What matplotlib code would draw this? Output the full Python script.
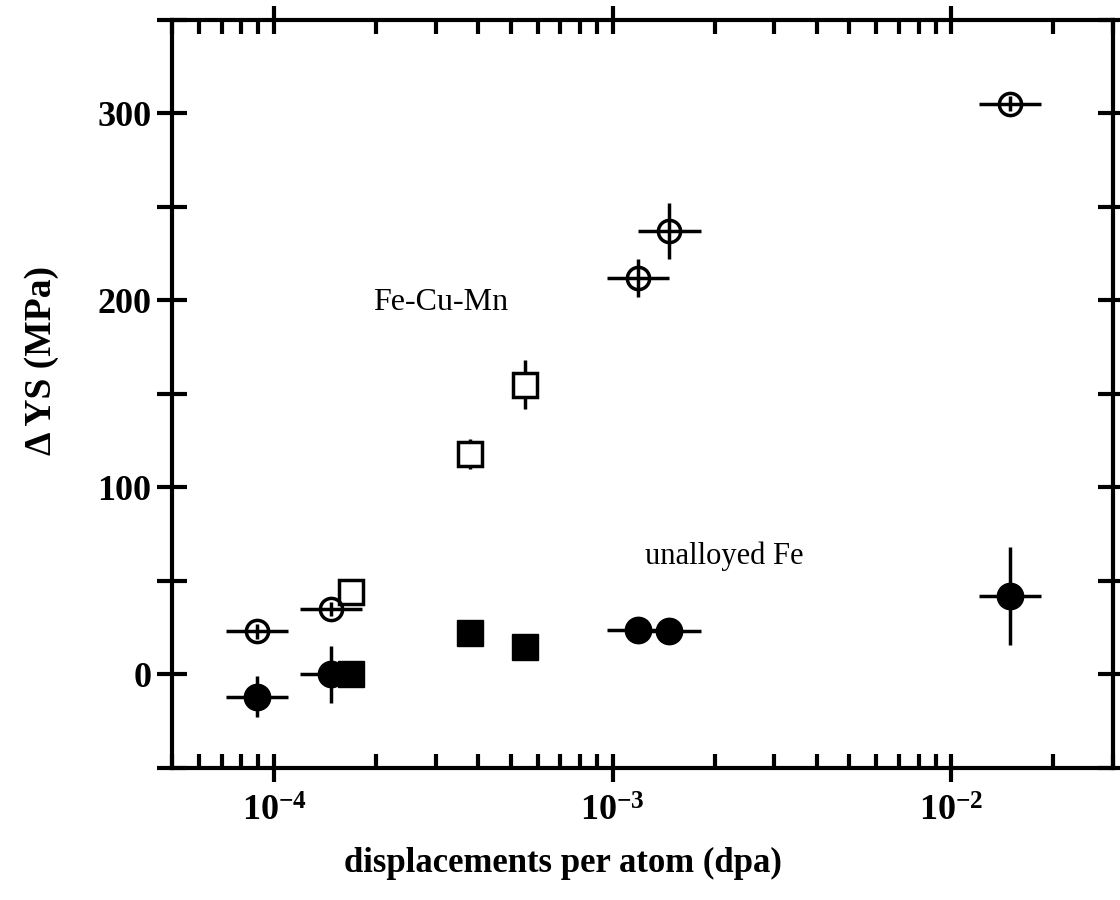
import numpy as np
import matplotlib
matplotlib.use("Agg")
import matplotlib.pyplot as plt
from matplotlib.ticker import LogLocator, FixedLocator, FuncFormatter, NullFormatter

plt.rcParams['font.family'] = ['Liberation Serif', 'DejaVu Serif']
plt.rcParams['mathtext.fontset'] = 'custom'
plt.rcParams['mathtext.rm'] = 'Liberation Serif:bold'
plt.rcParams['mathtext.bf'] = 'Liberation Serif:bold'
plt.rcParams['mathtext.it'] = 'Liberation Serif:bold'

# Fe-Cu-Mn, open circles
cumn_circ_dpa = [8.9e-5, 1.47e-4, 1.19e-3, 1.47e-3, 1.49e-2]
cumn_circ_ys = [23, 35, 212, 237, 305]
cumn_circ_err = [4, 4, 10, 15, 4]
# Fe-Cu-Mn, open squares
cumn_sq_dpa = [1.69e-4, 3.80e-4, 5.50e-4]
cumn_sq_ys = [44, 118, 155]
cumn_sq_err = [0, 8, 13]
# unalloyed Fe, filled circles
fe_circ_dpa = [8.9e-5, 1.47e-4, 1.19e-3, 1.47e-3, 1.49e-2]
fe_circ_ys = [-12, 0, 24, 23, 42]
fe_circ_err = [11, 15, 4, 4, 26]
# unalloyed Fe, filled squares
fe_sq_dpa = [1.69e-4, 3.80e-4, 5.50e-4]
fe_sq_ys = [0, 22, 14.5]
# dpa uncertainty, half width in decades
dpa_err_dex = 0.092


def xerr_of(xs):
    xs = np.array(xs)
    return [xs - xs / 10**dpa_err_dex, xs * 10**dpa_err_dex - xs]


fig = plt.figure(figsize=(11.2, 9), dpi=100)
ax = fig.add_axes([0.1536, 0.1467, 0.8402, 0.8313])

# open squares (white face hides the bars)
ax.errorbar(cumn_sq_dpa, cumn_sq_ys, yerr=cumn_sq_err, fmt='s', ms=17, mfc='white',
            mec='black', mew=2.5, ecolor='black', elinewidth=2.5, capsize=0, zorder=3)
# filled squares
ax.plot(fe_sq_dpa, fe_sq_ys, 's', ms=19, color='black', zorder=3)
# open circles with crosshair from the bars
ax.errorbar(cumn_circ_dpa, cumn_circ_ys, xerr=xerr_of(cumn_circ_dpa), yerr=cumn_circ_err,
            fmt='o', ms=16, mfc='none', mec='black', mew=2.5, ecolor='black',
            elinewidth=2.5, capsize=0, zorder=4)
# filled circles
ax.errorbar(fe_circ_dpa, fe_circ_ys, xerr=xerr_of(fe_circ_dpa), yerr=fe_circ_err,
            fmt='o', ms=19, color='black', ecolor='black',
            elinewidth=2.5, capsize=0, zorder=4)

ax.text(3.1e-4, 199, 'Fe-Cu-Mn', fontsize=23, ha='center', va='center')
ax.text(2.14e-3, 63, 'unalloyed Fe', fontsize=22, ha='center', va='center')

ax.set_xscale('log')
ax.set_xlim(5e-5, 3e-2)
ax.set_ylim(-50, 350)

ax.xaxis.set_major_locator(LogLocator(base=10, numticks=10))
ax.xaxis.set_minor_locator(LogLocator(base=10, subs=np.arange(2, 10), numticks=20))
ax.xaxis.set_minor_formatter(NullFormatter())
ax.xaxis.set_major_formatter(FuncFormatter(
    lambda v, p: r'$\mathbf{10^{%d}}$' % int(round(np.log10(v)))))
ax.yaxis.set_major_locator(FixedLocator(np.arange(-50, 351, 50)))
ax.yaxis.set_major_formatter(FuncFormatter(
    lambda v, p: '%d' % v if v % 100 == 0 and v >= 0 else ''))

ax.tick_params(axis='x', which='major', direction='inout', length=20, width=3,
               top=True, bottom=True, labelsize=26, pad=10)
ax.tick_params(axis='x', which='minor', direction='in', length=10, width=3,
               top=True, bottom=True)
ax.tick_params(axis='y', which='major', direction='inout', length=22, width=3,
               left=True, right=True, labelsize=26, pad=4)
for lab in ax.get_yticklabels():
    lab.set_fontweight('bold')

for s in ax.spines.values():
    s.set_linewidth(3)

ax.set_xlabel('displacements per atom (dpa)', fontsize=25, fontweight='bold')
ax.set_ylabel('\u0394 YS (MPa)', fontsize=27, fontweight='bold')
ax.xaxis.set_label_coords(0.415, -0.106)
ax.yaxis.set_label_coords(-0.12, 0.545)

plt.savefig('out.png', dpi=100)
